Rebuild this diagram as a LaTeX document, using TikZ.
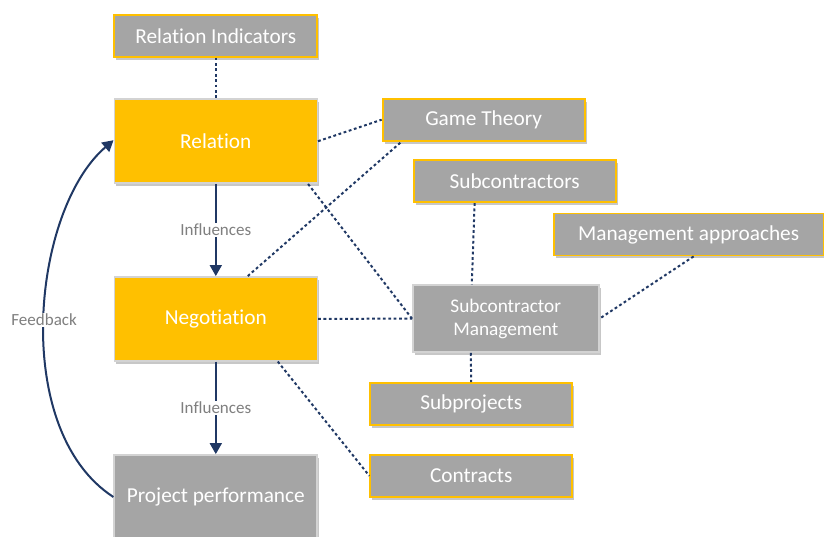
\documentclass[tikz,border=0pt]{standalone}
\usepackage{fontspec}
\setmainfont{Carlito}[RawFeature={-liga}]
\usetikzlibrary{arrows.meta,shadows}
\definecolor{ygold}{HTML}{FFC000}
\definecolor{gboxfill}{HTML}{A5A5A5}
\definecolor{navy}{HTML}{203864}
\definecolor{lgborder}{HTML}{D3D3D3}
\definecolor{lblgray}{HTML}{7F7F7F}
\tikzset{
  base/.style={rectangle, inner sep=0pt, text=white,
    font=\fontsize{21.3}{25}\selectfont,
    drop shadow={shadow xshift=2pt,shadow yshift=-3pt,opacity=0.22,fill=black}},
  ybox/.style={base, fill=ygold, draw=lgborder, line width=1.5pt},
  gbox/.style={base, fill=gboxfill, draw=ygold, line width=1.8pt},
  smbox/.style={base, fill=gboxfill, draw=lgborder, line width=1.5pt, align=center,
    font=\fontsize{19.3}{23}\selectfont},
  dotline/.style={draw=navy, line width=2pt, dash pattern=on 2.8pt off 2.6pt},
  flow/.style={draw=navy, line width=2pt, -{Triangle[length=11pt,width=12pt]}},
  lbl/.style={fill=white, text=lblgray, font=\fontsize{17}{20}\selectfont, inner sep=1pt},
}
\begin{document}
\begin{tikzpicture}[x=1pt,y=-1pt]
\useasboundingbox (0,0) rectangle (824,537);
% main column
\node[gbox, minimum width=203pt, minimum height=42pt] (ri) at (215.8,35.8) {Relation Indicators};
\node[ybox, minimum width=203pt, minimum height=84pt] (rel) at (215.8,141.2) {Relation};
\node[ybox, minimum width=203pt, minimum height=84pt] (neg) at (215.8,318.8) {Negotiation};
\node[gbox, draw=lgborder, minimum width=203pt, minimum height=84pt] (pp) at (215.8,497) {Project performance};
% right side
\node[gbox, minimum width=202pt, minimum height=42pt] (gt) at (483.6,119.7) {Game Theory};
\node[gbox, minimum width=202pt, minimum height=42pt] (sc) at (514.6,181.2) {Subcontractors};
\node[gbox, minimum width=270pt, minimum height=42pt] (ma) at (688.6,234.5) {Management approaches};
\node[smbox, minimum width=186pt, minimum height=67pt] (sm) at (505.8,318.7) {Subcontractor\\Management};
\node[gbox, minimum width=202pt, minimum height=42pt] (sp) at (471.2,404) {Subprojects};
\node[gbox, minimum width=202pt, minimum height=42pt] (ct) at (471.2,475.8) {Contracts};
% dotted connectors
\draw[dotline] (ri.south) -- (rel.north);
\draw[dotline] (rel.east) -- (gt.west);
\draw[dotline] ([xshift=-10pt]rel.south east) -- (sm.west);
\draw[dotline] (neg.east) -- (sm.west);
\draw[dotline] ([xshift=32pt]neg.north) -- ([xshift=-82pt]gt.south);
\draw[dotline] ([xshift=-40pt]sc.south) -- ([xshift=-34pt]sm.north);
\draw[dotline] ([xshift=5pt]ma.south) -- (sm.east);
\draw[dotline] ([xshift=-35pt]sm.south) -- (sp.north);
\draw[dotline] ([xshift=62pt]neg.south) -- (ct.west);
% flow arrows
\draw[flow] (rel.south) -- node[lbl] {Influences} (neg.north);
\draw[flow] (neg.south) -- node[lbl] {Influences} (pp.north);
\draw[flow] (pp.west) .. controls (10,430) and (32,210) .. node[lbl, pos=0.5] {Feedback} ([yshift=1pt]rel.west);
\end{tikzpicture}
\end{document}
